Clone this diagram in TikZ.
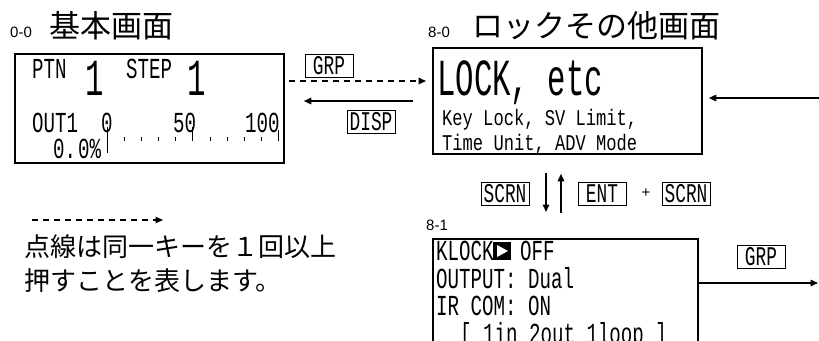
\documentclass[tikz,border=0pt]{standalone}
\usepackage{fontspec}
\setmainfont{Liberation Sans}
\newfontfamily\lcd[FakeStretch=0.66]{Liberation Mono}
\newfontfamily\lcdg[FakeStretch=0.59]{Liberation Mono}
\newfontfamily\lcdc[FakeStretch=0.76]{Liberation Mono}
\newfontfamily\jp{Noto Sans CJK JP}
\usetikzlibrary{arrows.meta,positioning}
\tikzset{
  pantalla/.style={draw,line width=1.8pt,inner sep=0pt,anchor=north west},
  tecla/.style={draw,line width=0.8pt,inner sep=1pt,minimum width=48pt,minimum height=23pt,font=\lcd\fontsize{27}{27}\selectfont},
  flecha/.style={line width=1.5pt,-{Triangle[length=7.5pt,width=6.5pt]}},
  punteado/.style={flecha,dash pattern=on 6pt off 5pt},
  txt/.style={anchor=base west,inner sep=0pt},
  chico/.style={txt,font=\lcdc\fontsize{22.5}{22.5}\selectfont},
  medio/.style={txt,text height=20pt,text depth=3pt,font=\lcd\fontsize{29}{29}\selectfont},
  grande/.style={txt,font=\lcdg\fontsize{52}{52}\selectfont},
  titulo/.style={txt,font=\jp\fontsize{31}{31}\selectfont},
  num/.style={txt,font=\fontsize{15}{15}\selectfont},
}
\begin{document}
\begin{tikzpicture}[x=1pt,y=-1pt]
    \useasboundingbox (0,0) rectangle (819,340);
    \clip (0,0) rectangle (819,340);

    % Pantalla basica 0-0
    \node[num] (n00) at (10,37) {0-0};
    \node[titulo] (t00) at (49,37) {基本画面};
    \node[pantalla,minimum width=269pt,minimum height=109pt] (basico) at (14,53) {};
    \node[medio] (ptn) at (32,78) {PTN};
    \node[grande] (ptnval) at (85,95) {1};
    \node[medio] (step) at (126,78) {STEP};
    \node[grande] (stepval) at (187,95) {1};
    \node[medio] (out) at (32,132) {OUT1};
    \node[medio] (e0) at (101,132) {0};
    \node[medio] (e50) at (173,132) {50};
    \node[medio] (e100) at (245,132) {100};
    \node[medio] (pct) at (53,158) {0.\hspace{2pt}0\%};
    % Escala
    \draw[line width=0.8pt] (107,127) -- (107,153);
    \foreach \i in {1,...,10}
        \draw[line width=0.8pt] (107+17.15*\i,137) -- (107+17.15*\i,141);
    \draw[line width=0.8pt] (192.75,127) -- (192.75,141);
    \draw[line width=0.8pt] (278.5,130) -- (278.5,141);

    % Pantalla de bloqueo 8-0
    \node[num] (n80) at (428,37) {8-0};
    \node[titulo] (t80) at (472,37) {ロックその他画面};
    \node[pantalla,minimum width=269pt,minimum height=106pt] (bloqueo) at (432,47) {};
    \node[grande] (lock) at (437,95) {LOCK, etc};
    \node[chico] (linea1) at (442,125) {Key Lock, SV Limit,};
    \node[chico] (linea2) at (442,150) {Time Unit, ADV Mode};

    % Pantalla 8-1
    \node[num] (n81) at (426,230) {8-1};
    \node[pantalla,minimum width=265pt,minimum height=130pt] (config) at (432,238) {};
    \node[medio] (klock) at (436,260) {KLOCK};
    \node[fill=black,minimum size=18pt,inner sep=0pt,anchor=north west] (cursor) at (493,242) {};
    \fill[white] (497,245) -- (508,251) -- (497,257) -- cycle;
    \node[medio] (off) at (520,260) {OFF};
    \node[medio] (output) at (436,288) {OUTPUT: Dual};
    \node[medio] (ircom) at (436,315) {IR COM: ON};
    \node[medio] (loop) at (460,343) {[ 1in 2out 1loop ]};

    % Teclas
    \node[tecla] (grp) at (329,66) {GRP};
    \node[tecla] (disp) at (371,122) {DISP};
    \node[tecla] (scrn) at (505,194) {SCRN};
    \node[tecla] (ent) at (602,194) {ENT};
    \node[font=\fontsize{15}{15}\selectfont] (mas) at (646,193) {+};
    \node[tecla] (scrn2) at (686,194) {SCRN};
    \node[tecla] (grp2) at (761,257) {GRP};

    % Flechas
    \coordinate (entrada) at (819,98);
    \coordinate (salida) at (818,283);
    \draw[punteado,shorten <=4pt,shorten >=6pt] (basico.east |- 0,81) -- (bloqueo.west |- 0,81);
    \draw[flecha,shorten <=19pt,shorten >=19pt] (bloqueo.west |- 0,101) -- (basico.east |- 0,101);
    \draw[flecha,shorten >=6pt] (entrada) -- (bloqueo.east |- entrada);
    \draw[flecha,shorten <=18pt,shorten >=26pt] (bloqueo.south -| 546,0) -- (config.north -| 546,0);
    \draw[flecha,shorten <=25pt,shorten >=19pt] (config.north -| 561,0) -- (bloqueo.south -| 561,0);
    \draw[flecha] (config.east |- salida) -- (salida);

    % Leyenda
    \coordinate (ley1) at (32,220);
    \coordinate (ley2) at (163,220);
    \draw[punteado,line width=1.2pt] (ley1) -- (ley2);
    \node[txt,font=\jp\fontsize{26}{26}\selectfont] (nota1) at (24,256) {点線は同一キーを１回以上};
    \node[txt,font=\jp\fontsize{26}{26}\selectfont] (nota2) at (24,290) {押すことを表します。};
\end{tikzpicture}
\end{document}
